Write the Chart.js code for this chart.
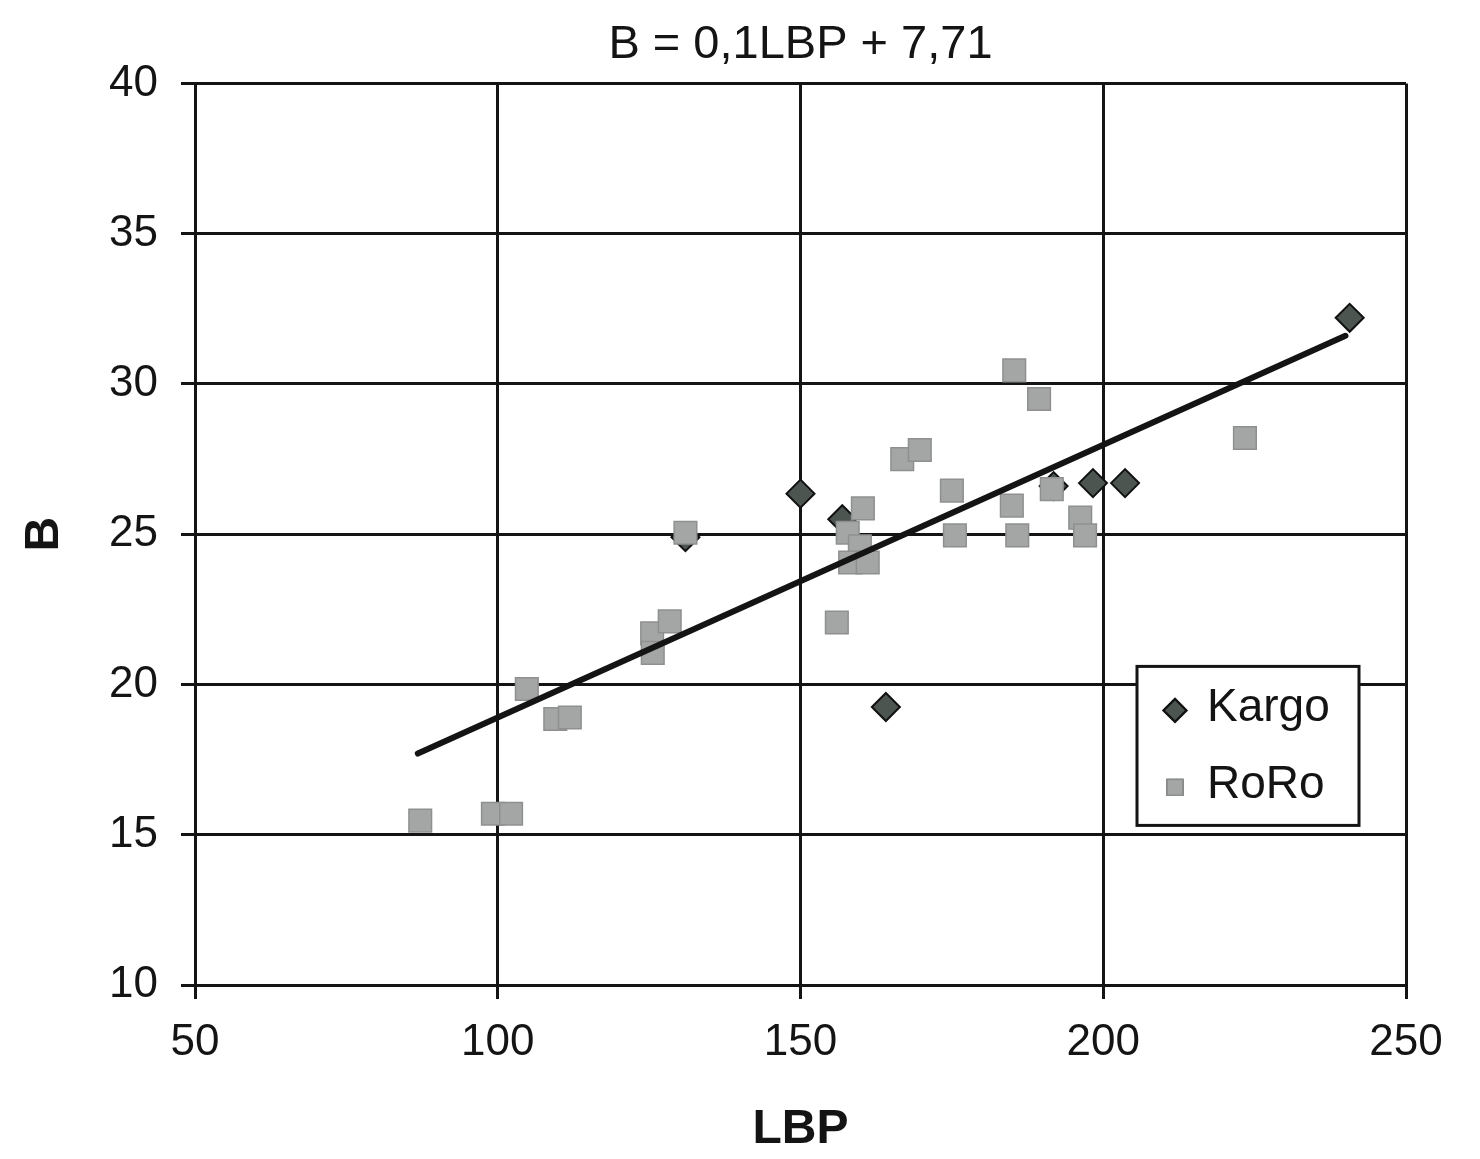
<!DOCTYPE html>
<html>
<head>
<meta charset="utf-8">
<script src="https://cdn.jsdelivr.net/npm/chart.js@4.4.0/dist/chart.umd.min.js"></script>
<style>
  body { margin: 0; background: #fff; }
  canvas { display: block; }
</style>
</head>
<body>
<canvas id="lbp-chart" width="1480" height="1159"></canvas>
<script>
// values
const kargoLBP = [240.7, 150, 198.3, 203.6, 164.1, 156.9, 191.8, 131];
const kargoB   = [32.2, 26.35, 26.7, 26.7, 19.25, 25.5, 26.6, 24.9];

const roroLBP = [87.2, 99.2, 102.2, 104.8, 109.5, 111.9, 125.5, 125.6, 128.4, 131,
                 156.0, 157.8, 159.8, 158.2, 161.1, 160.3, 166.8, 169.7, 175, 175.5,
                 185.3, 189.4, 184.9, 185.8, 191.5, 196.2, 197, 223.4];
const roroB   = [15.47, 15.7, 15.7, 19.85, 18.85, 18.9, 21.7, 21.05, 22.1, 25.05,
                 22.06, 25.05, 24.6, 24.06, 24.06, 25.86, 27.5, 27.8, 26.45, 24.96,
                 30.45, 29.5, 25.95, 24.96, 26.5, 25.55, 24.96, 28.2];

const trendLBP = [86.8, 240.0];
const trendB   = [17.7, 31.6];

const xTicks = [50, 100, 150, 200, 250];
const yTicks = [10, 15, 20, 25, 30, 35, 40];

const FONT = '"Liberation Sans", Arial, sans-serif';
const INK = '#141414';

const toPoints = (xs, ys) => xs.map((x, i) => ({ x: x, y: ys[i] }));

// legend box sitting inside the plot, drawn by hand
const boxLegend = {
  id: 'boxLegend',
  afterDraw(chart) {
    const ctx = chart.ctx;
    const a = chart.chartArea;
    const left = a.right - 269, top = a.top + 583, w = 222, h = 159;
    ctx.save();
    ctx.fillStyle = '#fff';
    ctx.fillRect(left, top, w, h);
    ctx.strokeStyle = INK;
    ctx.lineWidth = 3;
    ctx.strokeRect(left, top, w, h);
    ctx.font = '46px ' + FONT;
    ctx.textBaseline = 'middle';
    [0, 1].forEach(i => {
      const ds = chart.data.datasets[i];
      const cy = top + 42 + i * 77;
      Chart.helpers.drawPoint(ctx, {
        pointStyle: ds.pointStyle,
        radius: 11,
        borderWidth: 1.5,
        rotation: 0
      }, left + 38, cy + 2);
      ctx.fillStyle = ds.backgroundColor;
      ctx.strokeStyle = ds.borderColor;
      ctx.lineWidth = 1.5;
      ctx.fill();
      ctx.stroke();
      ctx.fillStyle = INK;
      ctx.fillText(ds.label, left + 70, cy);
    });
    ctx.restore();
  }
};

new Chart(document.getElementById('lbp-chart'), {
  type: 'scatter',
  plugins: [boxLegend],
  data: {
    datasets: [{
      label: 'Kargo',
      data: toPoints(kargoLBP, kargoB),
      pointStyle: 'rectRot',
      pointRadius: 14,
      backgroundColor: '#4c5550',
      borderColor: '#111',
      borderWidth: 2,
      order: 3
    }, {
      label: 'RoRo',
      data: toPoints(roroLBP, roroB),
      pointStyle: 'rect',
      pointRadius: 16,
      backgroundColor: '#a4a6a5',
      borderColor: '#8e9090',
      borderWidth: 1.5,
      order: 2
    }, {
      label: 'trend',
      data: toPoints(trendLBP, trendB),
      showLine: true,
      pointRadius: 0,
      borderColor: INK,
      borderWidth: 6,
      borderCapStyle: 'round',
      order: 1
    }]
  },
  options: {
    responsive: false,
    animation: false,
    layout: { padding: { left: 0, right: 74, top: 0, bottom: 0 } },
    scales: {
      x: {
        type: 'linear',
        min: 50,
        max: 250,
        afterFit: s => { s.height = 174; },
        afterBuildTicks: s => { s.ticks = xTicks.map(v => ({ value: v })); },
        ticks: { font: { family: FONT, size: 44 }, color: INK, padding: 17 },
        grid: { color: INK, lineWidth: 3, tickLength: 14 },
        border: { color: INK, width: 3 },
        title: {
          display: true,
          text: 'LBP',
          color: INK,
          font: { family: FONT, size: 48, weight: 'bold' },
          padding: { top: 0, bottom: 0 }
        }
      },
      y: {
        type: 'linear',
        min: 10,
        max: 40,
        afterFit: s => { s.width = 195; },
        afterBuildTicks: s => { s.ticks = yTicks.map(v => ({ value: v })); },
        ticks: { font: { family: FONT, size: 44 }, color: INK, padding: 23 },
        grid: { color: INK, lineWidth: 3, tickLength: 14 },
        border: { color: INK, width: 3 },
        title: {
          display: true,
          text: 'B',
          color: INK,
          font: { family: FONT, size: 48, weight: 'bold' },
          padding: { top: 16, bottom: 0 }
        }
      }
    },
    plugins: {
      legend: { display: false },
      tooltip: { enabled: false },
      title: {
        display: true,
        fullSize: false,
        text: 'B = 0,1LBP + 7,71',
        color: INK,
        font: { family: FONT, size: 47, weight: 'normal' },
        padding: { top: 17, bottom: 10 }
      }
    }
  }
});
</script>
</body>
</html>
